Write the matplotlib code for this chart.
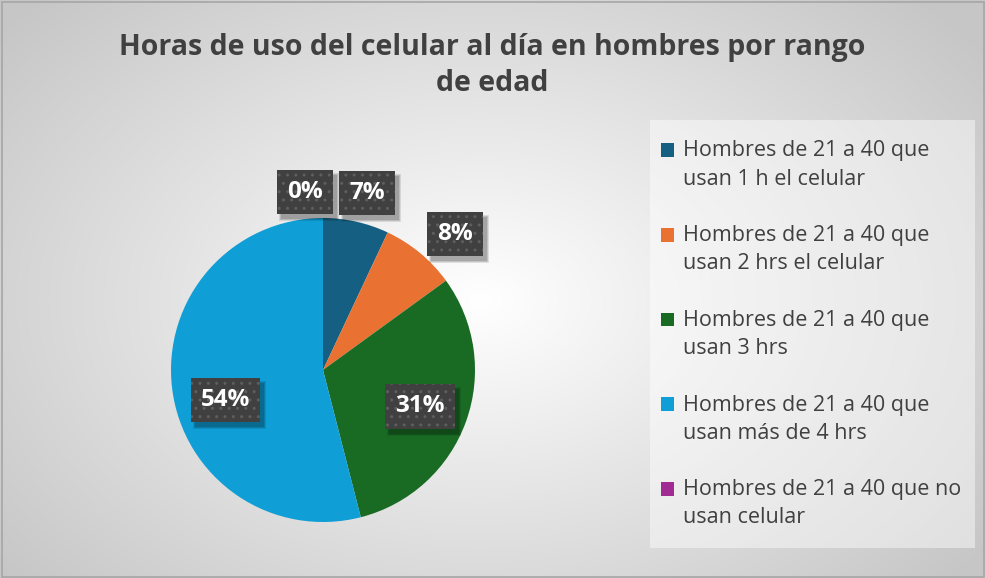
import numpy as np
import matplotlib.pyplot as plt
from matplotlib.patches import Rectangle

# datos
categorias = ['Hombres de 21 a 40 que\nusan 1 h el celular',
              'Hombres de 21 a 40 que\nusan 2 hrs el celular',
              'Hombres de 21 a 40 que\nusan 3 hrs',
              'Hombres de 21 a 40 que\nusan más de 4 hrs',
              'Hombres de 21 a 40 que no\nusan celular']
porcentajes = [7, 8, 31, 54, 0]
etiquetas = ['7%', '8%', '31%', '54%', '0%']
colores = ['#156082', '#E97132', '#196B24', '#0F9ED5', '#A02B93']

# figure 985x578
W, H = 985, 578
fig = plt.figure(figsize=(W / 100, H / 100), dpi=100)
plt.rcParams['font.family'] = ['Open Sans', 'DejaVu Sans']

# radial gradient background
bg = fig.add_axes([0, 0, 1, 1], zorder=0)
yy, xx = np.mgrid[0:H, 0:W]
d = np.sqrt(((xx - 480) / 620.0) ** 2 + ((yy - 300) / 420.0) ** 2)
g = np.clip(1.0 - 0.22 * d, 0.78, 1.0)
bg.imshow(np.dstack([g, g, g]), extent=[0, W, 0, H], origin='upper', aspect='auto')
bg.set_xlim(0, W)
bg.set_ylim(0, H)
bg.axis('off')
bg.add_patch(Rectangle((1.5, 1.5), W - 3, H - 3, fill=False, edgecolor='#a6a6a6', lw=1.2))
# legend panel
bg.add_patch(Rectangle((650, H - 548), 325, 428, facecolor='white', alpha=0.45, lw=0))

# pie axes in pixel units
ax = fig.add_axes([0, 0, 1, 1], zorder=1)
ax.patch.set_alpha(0)
cx, cy, R = 323, H - 370, 152
wedges, _ = ax.pie(porcentajes, colors=colores, startangle=90, counterclock=False,
                   center=(cx, cy), radius=R, wedgeprops=dict(linewidth=0))
ax.set_xlim(0, W)
ax.set_ylim(0, H)
ax.set_aspect('auto')
ax.axis('off')

# label placement (radial distance + small nudge in px, y down)
distancia = [1.2, 1.24, 0.65, 0.68, 1.17]
ajuste = [(4, 1), (12, 9), (4, 3), (5, 17), (-18, 0)]
textos = []
for w, lab, dist, (dx, dy) in zip(wedges, etiquetas, distancia, ajuste):
    ang = np.deg2rad((w.theta1 + w.theta2) / 2)
    x = cx + R * dist * np.cos(ang) + dx
    y = cy + R * dist * np.sin(ang) - dy
    t = ax.text(x, y, lab, ha='center', va='center', fontsize=17.5, fontweight='bold',
                color='white', zorder=4,
                bbox=dict(boxstyle='square,pad=0.42', facecolor='#404040', edgecolor='#5e5e5e',
                          hatch='..', lw=0))
    textos.append(t)

fig.text(0.5, 1 - 65.5 / H, 'Horas de uso del celular al día en hombres por rango\nde edad',
         ha='center', va='center', fontsize=20.5, fontweight='bold', color='#404040',
         linespacing=1.35)

leg = fig.legend(wedges, categorias, loc='upper left', bbox_to_anchor=(642 / W, 1 - 121 / H),
                 frameon=False, fontsize=15.5, labelcolor='#404040',
                 handlelength=0.6, handleheight=0.6, handletextpad=0.4,
                 labelspacing=1.65)
for txt in leg.get_texts():
    txt.set_linespacing(1.45)
# put the colour squares next to the first line of each entry
for h in leg.legend_handles:
    h.set_y(h.get_y() + 11)
leg.set_zorder(5)

# soft shadow behind the label boxes
fig.canvas.draw()
rend = fig.canvas.get_renderer()
for t in textos:
    bb = t.get_bbox_patch().get_window_extent(rend)
    for k, a in enumerate([0.10, 0.12, 0.14]):
        ax.add_patch(Rectangle((bb.x0 + 4 - 2 + k, bb.y0 - 5 - 2 + k),
                               bb.width + 4 - 2 * k, bb.height + 4 - 2 * k,
                               facecolor='black', alpha=a, lw=0, zorder=3))

fig.savefig('out.png', dpi=100)
